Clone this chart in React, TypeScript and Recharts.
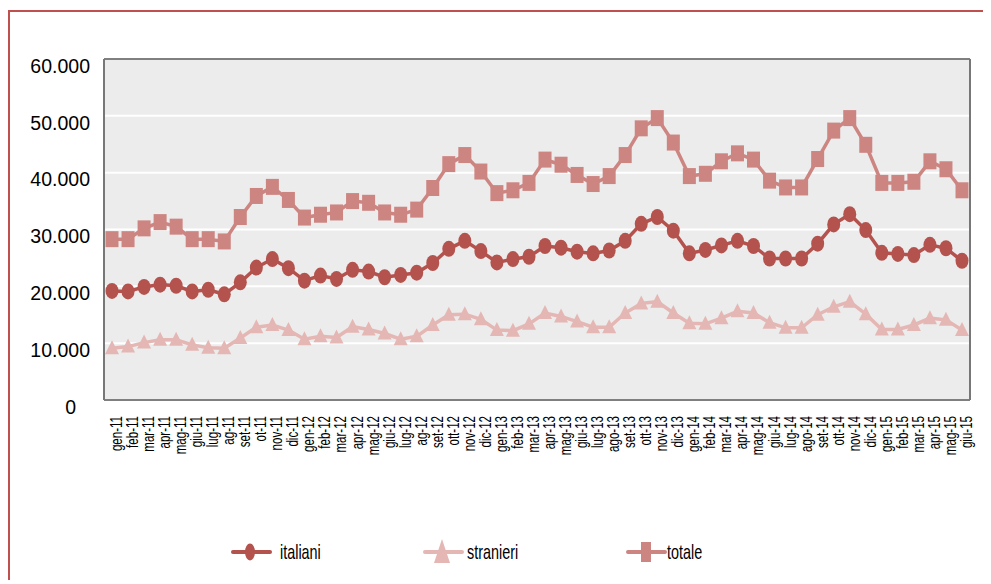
import { LineChart, Line, XAxis, YAxis, CartesianGrid, ReferenceLine } from "recharts";

const mesi = [
  "gen-11", "feb-11", "mar-11", "apr-11", "mag-11", "giu-11", "lug-11", "ag-11", "set-11", "ot-11", "nov-11", "dic-11",
  "gen-12", "feb-12", "mar-12", "apr-12", "mag-12", "giu-12", "lug-12", "ag-12", "set-12", "ott-12", "nov-12", "dic-12",
  "gen-13", "feb-13", "mar-13", "apr-13", "mag-13", "giu-13", "lug-13", "ago-13", "set-13", "ott-13", "nov-13", "dic-13",
  "gen-14", "feb-14", "mar-14", "apr-14", "mag-14", "giu-14", "lug-14", "ago-14", "set-14", "ott-14", "nov-14", "dic-14",
  "gen-15", "feb-15", "mar-15", "apr-15", "mag-15", "giu-15",
];

const italiani = [
  19200, 19100, 19900, 20300, 20100, 19100, 19400, 18600, 20700, 23300, 24800, 23200,
  21000, 21900, 21300, 22900, 22600, 21600, 22000, 22400, 24100, 26600, 28000, 26200,
  24200, 24800, 25200, 27100, 26800, 26100, 25800, 26300, 28000, 31000, 32200, 29800,
  25800, 26400, 27200, 28000, 27100, 24900, 24900, 24900, 27500, 30900, 32700, 29900,
  25900, 25700, 25500, 27300, 26700, 24500,
];

const stranieri = [
  9100, 9400, 10100, 10600, 10600, 9700, 9200, 9100, 10900, 12800, 13200, 12300,
  10700, 11200, 11000, 12900, 12400, 11700, 10700, 11200, 13200, 15000, 15100, 14200,
  12300, 12200, 13400, 15300, 14700, 13800, 12800, 12800, 15300, 17000, 17300, 15300,
  13500, 13400, 14400, 15600, 15300, 13600, 12700, 12700, 15000, 16400, 17300, 15100,
  12400, 12400, 13200, 14400, 14100, 12300,
];

const totale = [
  28300, 28300, 30200, 31300, 30500, 28300, 28300, 27900, 32200, 35900, 37500, 35200,
  32100, 32600, 33000, 35000, 34700, 33000, 32600, 33500, 37300, 41500, 43100, 40200,
  36400, 36900, 38200, 42300, 41400, 39600, 38000, 39400, 43100, 47800, 49600, 45300,
  39400, 39800, 42000, 43400, 42300, 38600, 37400, 37400, 42400, 47400, 49600, 44900,
  38200, 38200, 38400, 42000, 40600, 36900,
];

const yTicks = [0, 10000, 20000, 30000, 40000, 50000, 60000];

const data = mesi.map((mese, i) => ({
  mese,
  italiani: italiani[i],
  stranieri: stranieri[i],
  totale: totale[i],
}));

const C_ITA = "#B4524E";
const C_STR = "#E4B7B4";
const C_TOT = "#CD8582";
const FONT = "'Liberation Sans', Arial, sans-serif";

const fmt = (v: number) => (v === 0 ? "0" : String(v).replace(/\B(?=(\d{3})+(?!\d))/g, "."));

function YTick(props: any) {
  const { y, payload } = props;
  const x = payload.value === 0 ? 66 : 80;
  return (
    <text x={x} y={y + 7} dy="0.35em" textAnchor="end" fontSize={19.5} fontFamily={FONT} fill="#000">
      {fmt(payload.value)}
    </text>
  );
}

function XTick(props: any) {
  const { x, y, payload } = props;
  return (
    <g transform={`translate(${x + 4},${y + 16})`}>
      <text
        transform="rotate(-90) scale(0.68,1)"
        textAnchor="end"
        dy="0.35em"
        fontSize={17}
        fontFamily={FONT}
        fill="#000"
      >
        {payload.value}
      </text>
    </g>
  );
}

const ellipseDot = (p: any) => (
  <ellipse key={`i${p.index}`} cx={p.cx} cy={p.cy} rx={6.5} ry={8} fill={C_ITA} />
);
const squareDot = (p: any) => (
  <rect key={`t${p.index}`} x={p.cx - 6.5} y={p.cy - 8} width={13} height={16} fill={C_TOT} />
);
const triDot = (p: any) => (
  <path
    key={`s${p.index}`}
    d={`M${p.cx},${p.cy - 8} L${p.cx + 7},${p.cy + 6} L${p.cx - 7},${p.cy + 6} Z`}
    fill={C_STR}
  />
);

function Legenda() {
  const ts = { fontSize: 20, fontFamily: FONT, fill: "#000" };
  return (
    <svg width={970} height={570} style={{ position: "absolute", left: 0, top: 0, pointerEvents: "none" }}>
      <line x1={223} x2={260} y1={540} y2={540} stroke={C_ITA} strokeWidth={4} strokeLinecap="round" />
      <ellipse cx={240} cy={540} rx={5} ry={8.5} fill={C_ITA} />
      <text transform="translate(270,547) scale(0.72,1)" {...ts}>italiani</text>

      <line x1={415} x2={452} y1={540} y2={540} stroke={C_STR} strokeWidth={4} strokeLinecap="round" />
      <path d="M432,527 L440,551 L424,551 Z" fill={C_STR} />
      <text transform="translate(457,547) scale(0.72,1)" {...ts}>stranieri</text>

      <line x1={618} x2={655} y1={540} y2={540} stroke={C_TOT} strokeWidth={4} strokeLinecap="round" />
      <rect x={631} y={530} width={10} height={20} fill={C_TOT} />
      <text transform="translate(657,547) scale(0.72,1)" {...ts}>totale</text>
    </svg>
  );
}

export default function App() {
  return (
    <div
      style={{
        position: "relative",
        top: 2,
        width: 973,
        height: 570,
        borderLeft: "2px solid #C0504D",
        borderTop: "2px solid #C0504D",
        background: "#fff",
      }}
    >
      <div style={{ position: "absolute", left: 0, top: 0 }}>
        <LineChart width={970} height={570} data={data} margin={{ top: 47, right: 8, bottom: 122, left: 0 }}>
          <CartesianGrid vertical={false} stroke="#fff" strokeWidth={2} fill="#ECECEC" />
          <XAxis
            dataKey="mese"
            interval={0}
            padding={{ left: 8, right: 8 }}
            height={60}
            tickLine={false}
            tickSize={0}
            tickMargin={0}
            axisLine={{ stroke: "#555", strokeWidth: 1.5 }}
            tick={<XTick />}
          />
          <YAxis
            domain={[0, 60000]}
            ticks={yTicks}
            width={94}
            tickLine={false}
            axisLine={{ stroke: "#777", strokeWidth: 2 }}
            tick={<YTick />}
          />
          <YAxis
            yAxisId="r"
            orientation="right"
            domain={[0, 60000]}
            width={2}
            tick={false}
            tickLine={false}
            axisLine={{ stroke: "#777", strokeWidth: 2 }}
          />
          <ReferenceLine y={60000} stroke="#000" strokeWidth={1} />
          <Line dataKey="stranieri" stroke={C_STR} strokeWidth={3.5} dot={triDot} isAnimationActive={false} />
          <Line dataKey="totale" stroke={C_TOT} strokeWidth={3.5} dot={squareDot} isAnimationActive={false} />
          <Line dataKey="italiani" stroke={C_ITA} strokeWidth={3.5} dot={ellipseDot} isAnimationActive={false} />
        </LineChart>
      </div>
      <Legenda />
    </div>
  );
}
